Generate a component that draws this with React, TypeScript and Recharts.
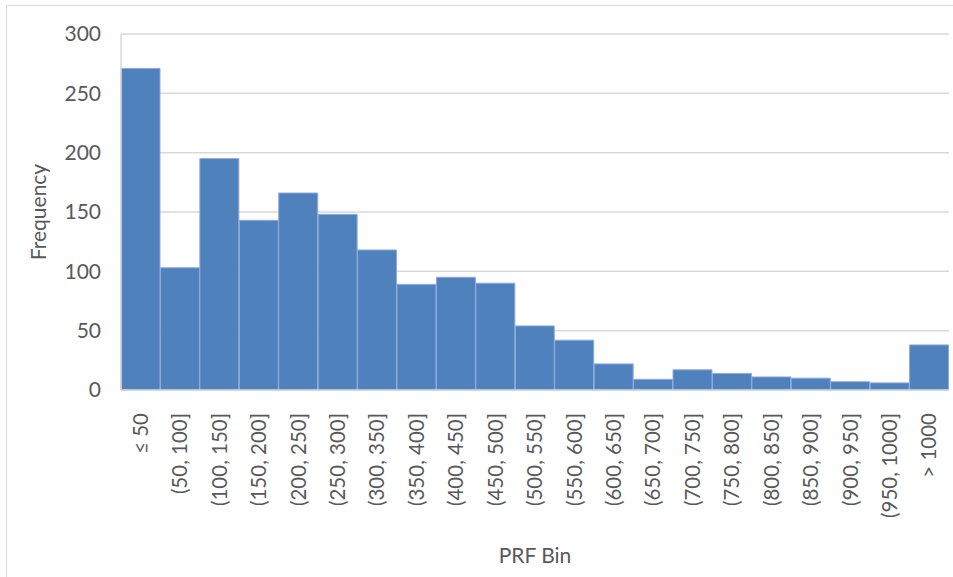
import { BarChart, Bar, XAxis, YAxis, CartesianGrid } from 'recharts'

// PRF bins and their counts
const bins = [
  '≤ 50', '(50, 100]', '(100, 150]', '(150, 200]', '(200, 250]', '(250, 300]', '(300, 350]',
  '(350, 400]', '(400, 450]', '(450, 500]', '(500, 550]', '(550, 600]', '(600, 650]', '(650, 700]',
  '(700, 750]', '(750, 800]', '(800, 850]', '(850, 900]', '(900, 950]', '(950, 1000]', '> 1000',
]
const frequency = [271, 103, 195, 143, 166, 148, 118, 89, 95, 90, 54, 42, 22, 9, 17, 14, 11, 10, 7, 6, 38]
const yTicks = [0, 50, 100, 150, 200, 250, 300]

const data = bins.map((bin, i) => ({ bin, count: frequency[i] }))

const FONT = 'Lato, "Open Sans", sans-serif'
const TEXT = '#595959'

function BinTick({ x, y, payload }: any) {
  return (
    <g transform={`translate(${x},${y})`}>
      <text
        x={0}
        y={0}
        dy="0.35em"
        textAnchor="end"
        transform="rotate(-90)"
        fill={TEXT}
        fontSize={20.5}
        fontFamily={FONT}
      >
        {payload.value}
      </text>
    </g>
  )
}

function FreqLabel({ viewBox }: any) {
  const cx = viewBox.x + 37
  const cy = viewBox.y + viewBox.height / 2
  return (
    <text
      x={cx}
      y={cy}
      transform={`rotate(-90 ${cx} ${cy})`}
      textAnchor="middle"
      dominantBaseline="central"
      fill={TEXT}
      fontSize={21}
      fontFamily={FONT}
    >
      Frequency
    </text>
  )
}

export default function App() {
  return (
    <div style={{ position: 'absolute', left: 0, top: 0, width: 953, height: 577, overflow: 'hidden', background: '#fff' }}>
      <div
        style={{
          position: 'absolute',
          left: 6,
          top: 5,
          width: 960,
          height: 590,
          border: '1px solid #d9d9d9',
          borderWidth: '1.5px 0 0 1.5px',
        }}
      />
      <div style={{ position: 'absolute', left: 0, top: 0 }}>
        <BarChart
          width={953}
          height={577}
          data={data}
          barCategoryGap={0}
          margin={{ top: 34, right: 4, left: 0, bottom: 12 }}
        >
          <CartesianGrid vertical={false} stroke="#d9d9d9" strokeWidth={1.5} />
          <XAxis
            dataKey="bin"
            interval={0}
            height={175}
            axisLine={{ stroke: '#d9d9d9', strokeWidth: 1.5 }}
            tickLine={false}
            tick={<BinTick />}
            tickMargin={17}
            label={{
              value: 'PRF Bin',
              position: 'insideBottom',
              offset: 2,
              fill: TEXT,
              fontSize: 21,
              fontFamily: FONT,
            }}
          />
          <YAxis
            width={121}
            domain={[0, 300]}
            ticks={yTicks}
            axisLine={{ stroke: '#d9d9d9', strokeWidth: 1.5 }}
            tickLine={false}
            tickMargin={14}
            tick={{ fill: TEXT, fontSize: 21, fontFamily: FONT }}
            label={<FreqLabel />}
          />
          <Bar dataKey="count" fill="#4f81bd" stroke="#8faadc" strokeWidth={1} isAnimationActive={false} />
        </BarChart>
      </div>
    </div>
  )
}
